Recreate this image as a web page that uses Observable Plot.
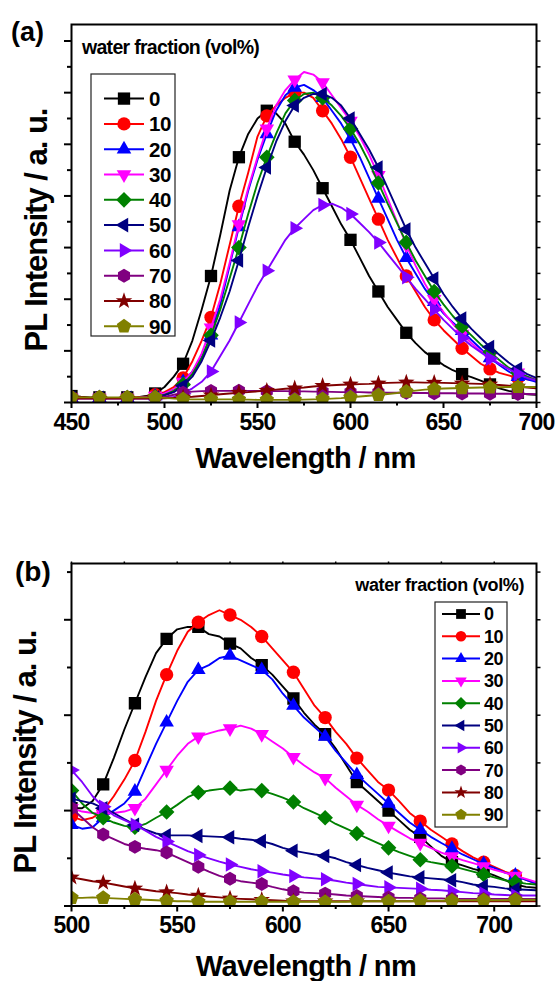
<!DOCTYPE html>
<html>
<head>
<meta charset="utf-8">
<script src="https://cdn.jsdelivr.net/npm/d3@7"></script>
<script src="https://cdn.jsdelivr.net/npm/@observablehq/plot@0.6"></script>
<style>
html, body { margin: 0; padding: 0; background: #fff; overflow: hidden; }
#wrap { width: 557px; height: 981px; overflow: hidden; }
#wrap svg { display: block; }
g[aria-label="x-axis tick label"] text { letter-spacing: -0.8px; }
</style>
</head>
<body>
<div id="wrap"></div>
<script>
// ---------- data ----------
const fractions = ["0", "10", "20", "30", "40", "50", "60", "70", "80", "90"];
const seriesColors = ["#000000", "#ff0000", "#0000ff", "#ff00ff", "#008000", "#000080", "#8000ff", "#800080", "#800000", "#808000"];

// panel (a): wavelength grid (nm)
const wlA = [450,455,460,465,470,475,480,485,490,495,500,505,510,515,520,525,530,535,540,545,550,555,560,565,570,575,580,585,590,595,600,605,610,615,620,625,630,635,640,645,650,655,660,665,670,675,680,685,690,695,700];
const a0  = [0.25,0.22,0.2,0.2,0.18,0.18,0.2,0.2,0.25,0.35, 0.6,1.0,1.5,2.4,3.6,4.9,6.5,8.2,9.5,10.4, 11.0,11.3,11.2,10.8,10.1,9.6,9.0,8.3,7.6,6.9, 6.3,5.6,4.9,4.3,3.7,3.2,2.7,2.3,1.95,1.7, 1.45,1.25,1.1,0.98,0.85,0.7,0.55,0.45,0.38,0.32,0.3];
const a10 = [0.2,0.2,0.18,0.18,0.18,0.18,0.18,0.2,0.22,0.3, 0.4,0.6,0.95,1.6,2.4,3.3,4.6,6.1,7.6,8.9, 10.3,11.1,11.5,11.8,12.0,12.0,11.8,11.3,10.8,10.2, 9.5,8.7,7.9,7.1,6.3,5.6,4.9,4.3,3.7,3.2, 2.8,2.45,2.1,1.8,1.5,1.3,1.15,1.05,0.95,0.9,0.85];
const a20 = [0.18,0.18,0.18,0.18,0.18,0.18,0.18,0.18,0.2,0.25, 0.35,0.5,0.8,1.2,1.75,2.6,3.8,5.3,6.8,8.2, 9.4,10.4,11.3,11.9,12.2,12.3,12.1,11.8,11.3,10.8, 10.2,9.5,8.7,7.9,7.1,6.3,5.6,5.0,4.4,3.9, 3.45,3.1,2.78,2.42,2.08,1.72,1.45,1.2,1.0,0.9,0.8];
const a30 = [0.18,0.18,0.18,0.18,0.18,0.18,0.18,0.18,0.2,0.25, 0.35,0.5,0.8,1.2,1.9,2.9,4.0,5.4,6.9,8.3, 9.5,10.6,11.5,12.1,12.5,12.8,12.7,12.4,11.9,11.4, 10.9,10.3,9.6,8.8,7.9,7.0,6.1,5.3,4.6,4.0, 3.5,3.05,2.65,2.3,2.0,1.75,1.5,1.3,1.15,1.0,0.9];
const a40 = [0.18,0.18,0.18,0.18,0.18,0.18,0.18,0.18,0.18,0.22, 0.3,0.45,0.7,1.1,1.7,2.6,3.6,4.8,6.0,7.3, 8.5,9.5,10.4,11.2,11.7,11.95,12.0,11.8,11.5,11.1, 10.6,10.0,9.3,8.5,7.7,6.95,6.2,5.5,4.9,4.3, 3.8,3.35,2.95,2.6,2.25,1.95,1.65,1.35,1.15,1.0,0.85];
const a50 = [0.18,0.18,0.18,0.18,0.18,0.18,0.18,0.18,0.18,0.2, 0.28,0.4,0.65,1.0,1.6,2.4,3.3,4.3,5.5,6.8, 8.0,9.1,10.1,10.9,11.5,11.8,11.95,11.95,11.8,11.5, 11.0,10.4,9.8,9.1,8.3,7.5,6.7,6.0,5.4,4.8, 4.2,3.7,3.25,2.85,2.5,2.15,1.85,1.55,1.3,1.1,0.95];
const a60 = [0.15,0.15,0.15,0.15,0.15,0.15,0.15,0.15,0.15,0.15, 0.18,0.22,0.35,0.55,0.8,1.2,1.8,2.4,3.1,3.8, 4.5,5.1,5.7,6.3,6.75,7.1,7.45,7.65,7.7,7.55, 7.3,6.95,6.6,6.2,5.75,5.3,4.85,4.4,4.0,3.6, 3.2,2.85,2.5,2.2,1.95,1.7,1.5,1.3,1.1,0.95,0.85];
const a70 = [0.18,0.18,0.18,0.18,0.18,0.18,0.18,0.18,0.2,0.2, 0.22,0.3,0.38,0.42,0.44,0.45,0.45,0.45,0.46,0.45, 0.45,0.44,0.44,0.44,0.43,0.43,0.42,0.42,0.41,0.4, 0.4,0.4,0.39,0.39,0.38,0.38,0.38,0.37,0.37,0.36, 0.36,0.36,0.35,0.35,0.35,0.34,0.34,0.34,0.33,0.33,0.32];
const a80 = [0.15,0.15,0.15,0.15,0.15,0.15,0.15,0.15,0.15,0.15, 0.16,0.18,0.2,0.22,0.25,0.28,0.32,0.35,0.38,0.4, 0.43,0.46,0.5,0.53,0.55,0.58,0.62,0.65,0.67,0.69, 0.7,0.71,0.72,0.74,0.76,0.77,0.78,0.78,0.77,0.77, 0.76,0.75,0.74,0.73,0.72,0.7,0.68,0.65,0.62,0.58,0.55];
const a90 = [0.2,0.2,0.2,0.2,0.2,0.2,0.2,0.2,0.2,0.2, 0.18,0.15,0.13,0.12,0.12,0.12,0.12,0.12,0.11,0.11, 0.1,0.1,0.1,0.1,0.1,0.11,0.12,0.13,0.15,0.17, 0.2,0.23,0.26,0.29,0.33,0.37,0.42,0.46,0.5,0.52, 0.54,0.55,0.56,0.57,0.58,0.58,0.59,0.6,0.6,0.6,0.6];

// panel (b): wavelength grid (nm)
const wlB = [500,505,510,515,520,525,530,535,540,545,550,555,560,565,570,575,580,585,590,595,600,605,610,615,620,625,630,635,640,645,650,655,660,665,670,675,680,685,690,695,700,705,710,715,720];
const b0  = [2.05,2.05,2.2,2.55,3.1,3.7,4.25,4.8,5.3,5.6, 5.8,5.85,5.85,5.7,5.65,5.5,5.4,5.2,5.05,4.85, 4.6,4.35,4.05,3.8,3.6,3.3,2.95,2.6,2.4,2.2, 2.0,1.8,1.6,1.45,1.25,1.05,0.92,0.85,0.78,0.72, 0.64,0.55,0.45,0.4,0.38];
const b10 = [1.88,1.8,1.85,2.0,2.3,2.65,3.05,3.65,4.3,4.85, 5.35,5.75,5.95,6.1,6.2,6.1,6.0,5.85,5.65,5.4, 5.15,4.9,4.55,4.2,3.95,3.65,3.4,3.1,2.85,2.6, 2.43,2.2,1.95,1.78,1.6,1.45,1.3,1.15,1.02,0.92, 0.82,0.72,0.64,0.55,0.47];
const b20 = [1.7,1.62,1.65,1.85,2.0,2.15,2.4,2.9,3.4,3.85, 4.3,4.7,4.95,5.05,5.2,5.25,5.15,5.05,4.95,4.75, 4.45,4.2,3.95,3.75,3.55,3.25,3.0,2.75,2.55,2.35, 2.15,1.95,1.75,1.6,1.45,1.32,1.2,1.08,0.98,0.88, 0.8,0.7,0.64,0.55,0.47];
const b30 = [2.05,1.98,1.95,1.93,1.95,1.98,2.05,2.25,2.55,2.85, 3.15,3.4,3.55,3.62,3.68,3.72,3.78,3.72,3.6,3.45, 3.3,3.12,2.95,2.8,2.68,2.48,2.3,2.12,1.98,1.82, 1.68,1.55,1.42,1.32,1.22,1.12,1.04,0.96,0.9,0.83, 0.76,0.7,0.63,0.57,0.5];
const b40 = [2.42,2.15,1.95,1.85,1.75,1.68,1.65,1.72,1.85,1.97, 2.12,2.28,2.38,2.42,2.45,2.47,2.42,2.45,2.42,2.35, 2.27,2.18,2.05,1.95,1.85,1.72,1.62,1.52,1.42,1.32, 1.22,1.13,1.05,0.97,0.92,0.88,0.84,0.78,0.72,0.66, 0.6,0.54,0.5,0.47,0.45];
const b50 = [2.25,2.2,2.15,2.05,1.95,1.82,1.7,1.6,1.52,1.48, 1.48,1.48,1.47,1.46,1.45,1.44,1.41,1.39,1.36,1.3, 1.22,1.16,1.12,1.08,1.05,1.0,0.92,0.86,0.8,0.75, 0.7,0.66,0.62,0.6,0.58,0.56,0.54,0.5,0.45,0.42, 0.4,0.37,0.35,0.34,0.33];
const b60 = [2.85,2.6,2.3,2.08,1.9,1.8,1.7,1.58,1.45,1.35, 1.25,1.15,1.07,1.0,0.93,0.87,0.82,0.77,0.73,0.7, 0.66,0.63,0.6,0.58,0.56,0.53,0.49,0.46,0.43,0.4, 0.39,0.38,0.37,0.36,0.34,0.33,0.31,0.29,0.27,0.26, 0.24,0.23,0.22,0.22,0.22];
const b70 = [2.05,1.85,1.65,1.5,1.4,1.3,1.24,1.2,1.17,1.12, 1.02,0.92,0.82,0.72,0.63,0.57,0.52,0.49,0.46,0.4, 0.35,0.31,0.28,0.27,0.26,0.24,0.22,0.21,0.2,0.19, 0.18,0.17,0.17,0.16,0.16,0.16,0.15,0.15,0.15,0.15, 0.15,0.15,0.15,0.15,0.15];
const b80 = [0.6,0.56,0.52,0.49,0.45,0.41,0.37,0.34,0.31,0.29, 0.27,0.24,0.22,0.2,0.18,0.16,0.15,0.14,0.13,0.12, 0.11,0.1,0.1,0.1,0.1,0.1,0.1,0.1,0.1,0.1, 0.1,0.1,0.1,0.1,0.1,0.1,0.1,0.1,0.1,0.1, 0.1,0.1,0.1,0.1,0.1];
const b90 = [0.17,0.17,0.18,0.17,0.16,0.15,0.14,0.13,0.12,0.11, 0.1,0.1,0.09,0.09,0.09,0.09,0.09,0.09,0.09,0.09, 0.09,0.09,0.09,0.09,0.09,0.09,0.09,0.1,0.1,0.1, 0.1,0.1,0.1,0.11,0.11,0.11,0.11,0.12,0.12,0.12, 0.12,0.12,0.13,0.13,0.13];

// ticks
const aXMajor = [450, 500, 550, 600, 650, 700];
const aXMinor = [475, 525, 575, 625, 675];
const aYMajor = [0, 2, 4, 6, 8, 10, 12, 14];
const aYMinor = [1, 3, 5, 7, 9, 11, 13];
const bXMajor = [500, 550, 600, 650, 700];
const bXMinor = [525, 575, 625, 675];
const bYMajor = [0, 2, 4, 6];
const bYMinor = [1, 3, 5, 7];

// texts
const xTitle = "Wavelength / nm";
const yTitle = "PL Intensity / a. u.";
const legendTitle = "water fraction (vol%)";

// ---------- symbols ----------
function polySym(n, rot, k) {
  return { draw(ctx, size) {
    const R = Math.sqrt(size / Math.PI) * k;
    for (let i = 0; i < n; i++) {
      const a = rot + i * 2 * Math.PI / n;
      const x = R * Math.sin(a), y = -R * Math.cos(a);
      if (i) ctx.lineTo(x, y); else ctx.moveTo(x, y);
    }
    ctx.closePath();
  }};
}
function starSym(ko, ki) {
  return { draw(ctx, size) {
    const R = Math.sqrt(size / Math.PI);
    for (let i = 0; i < 10; i++) {
      const rr = (i % 2 ? ki : ko) * R;
      const a = i * Math.PI / 5;
      const x = rr * Math.sin(a), y = -rr * Math.cos(a);
      if (i) ctx.lineTo(x, y); else ctx.moveTo(x, y);
    }
    ctx.closePath();
  }};
}
const circleSym = { draw(ctx, size) { const R = Math.sqrt(size / Math.PI) * 1.15; ctx.moveTo(R, 0); ctx.arc(0, 0, R, 0, 2 * Math.PI); ctx.closePath(); } };
const seriesSymbols = [
  polySym(4, Math.PI / 4, 1.5),   // square
  circleSym,                      // circle
  polySym(3, 0, 1.45),            // up
  polySym(3, Math.PI, 1.45),      // down
  polySym(4, 0, 1.35),            // diamond
  polySym(3, -Math.PI / 2, 1.45), // left
  polySym(3, Math.PI / 2, 1.45),  // right
  polySym(6, 0, 1.2),             // hexagon
  starSym(1.5, 0.6),              // star
  polySym(5, 0, 1.3)              // pentagon
];

const FONT = '"Liberation Sans", Arial, Helvetica, sans-serif';

function panel(o) {
  const marks = [];
  o.series.forEach((vals, i) => {
    const rows = o.wl.map((w, j) => ({ w, v: vals[j] }));
    marks.push(Plot.line(rows, { x: "w", y: "v", stroke: seriesColors[i], strokeWidth: 1.9, clip: true }));
    marks.push(Plot.dot(rows.filter(d => (d.w - o.wl[0]) % 15 === 0), { x: "w", y: "v", r: 5.8, fill: seriesColors[i], symbol: seriesSymbols[i], clip: true }));
  });
  marks.push(
    Plot.axisX(o.xMajor, { tickSize: 6, tickPadding: 5, strokeWidth: 2, fontSize: 23, fontWeight: "bold", label: null }),
    Plot.axisX(o.xMinor, { tickSize: 3.5, strokeWidth: 2, tickFormat: () => "", label: null }),
    Plot.axisY(o.yMajor, { tickSize: 7, strokeWidth: 2, tickFormat: () => "", label: null }),
    Plot.axisY(o.yMinor, { tickSize: 4, strokeWidth: 2, tickFormat: () => "", label: null }),
    Plot.axisY(o.yMajor.concat(o.yMinor), { anchor: "right", tickSize: 3.5, strokeWidth: 1.5, tickFormat: () => "", label: null })
  );
  if (o.topTicks) marks.push(Plot.axisX(o.xMajor.concat(o.xMinor), { anchor: "top", tickSize: 2.5, strokeWidth: 1.5, tickFormat: () => "", label: null }));
  marks.push(Plot.frame({ stroke: "black", strokeWidth: 2 }));
  return Plot.plot({
    width: 557, height: o.height,
    marginLeft: 71, marginRight: 21, marginTop: o.mt, marginBottom: o.mb,
    x: { domain: o.xDomain, label: null },
    y: { domain: o.yDomain, label: null },
    style: { fontFamily: FONT, fontWeight: "bold", background: "white", color: "black", overflow: "visible" },
    marks
  });
}

function addText(svg, o) {
  const t = d3.select(svg).append("text")
    .attr("x", o.x).attr("y", o.y)
    .attr("font-size", o.size).attr("font-weight", "bold")
    .attr("font-family", FONT)
    .attr("text-anchor", o.anchor || "start")
    .attr("fill", "black")
    .style("letter-spacing", (o.ls || 0) + "px")
    .text(o.text);
  if (o.rotate) t.attr("transform", `rotate(${o.rotate},${o.x},${o.y})`);
  return t;
}

function addLegend(svg, o) {
  const g = d3.select(svg).append("g");
  g.append("rect").attr("x", o.bx).attr("y", o.by).attr("width", o.bw).attr("height", o.bh)
    .attr("fill", "white").attr("stroke", "#222").attr("stroke-width", 1.2);
  fractions.forEach((f, i) => {
    const y = o.y0 + i * o.dy;
    g.append("line").attr("x1", o.lx1).attr("x2", o.lx2).attr("y1", y).attr("y2", y)
      .attr("stroke", seriesColors[i]).attr("stroke-width", 2);
    g.append("path").attr("d", d3.symbol(seriesSymbols[i], o.r * o.r * Math.PI)())
      .attr("transform", `translate(${o.mx},${y})`).attr("fill", seriesColors[i]);
    g.append("text").attr("x", o.tx).attr("y", y + 0.36 * o.fs)
      .attr("font-size", o.fs).attr("font-weight", "bold").attr("font-family", FONT)
      .attr("text-anchor", "start").style("letter-spacing", "-0.5px").text(f);
  });
}

const wrap = document.getElementById("wrap");

// ----- panel (a) -----
const svgA = panel({
  wl: wlA, series: [a0, a10, a20, a30, a40, a50, a60, a70, a80, a90],
  xDomain: [450, 700], yDomain: [0, 14.64],
  xMajor: aXMajor, xMinor: aXMinor, yMajor: aYMajor, yMinor: aYMinor,
  height: 490, mt: 24, mb: 88, topTicks: false
});
wrap.appendChild(svgA);
addText(svgA, { x: 11, y: 41, size: 27, text: "(a)" });
addText(svgA, { x: 47, y: 230, size: 31, text: yTitle, anchor: "middle", rotate: -90, ls: -1 });
addText(svgA, { x: 305.5, y: 468, size: 29, text: xTitle, anchor: "middle", ls: -0.6 });
addText(svgA, { x: 82, y: 54, size: 19.5, text: legendTitle, ls: -0.7 });
addLegend(svgA, { bx: 91, by: 74, bw: 84, bh: 262, y0: 98.6, dy: 25.3, lx1: 104, lx2: 144, mx: 124, tx: 149, fs: 20.5, r: 5.8 });

// ----- panel (b) -----
const svgB = panel({
  wl: wlB, series: [b0, b10, b20, b30, b40, b50, b60, b70, b80, b90],
  xDomain: [500, 720], yDomain: [0, 7.18],
  xMajor: bXMajor, xMinor: bXMinor, yMajor: bYMajor, yMinor: bYMinor,
  height: 491, mt: 73, mb: 75.5, topTicks: true
});
wrap.appendChild(svgB);
addText(svgB, { x: 15, y: 90.5, size: 28, text: "(b)" });
addText(svgB, { x: 36, y: 262, size: 31, text: yTitle, anchor: "middle", rotate: -90, ls: -1 });
addText(svgB, { x: 306, y: 486, size: 29, text: xTitle, anchor: "middle", ls: -0.6 });
addText(svgB, { x: 524, y: 101, size: 18, text: legendTitle, anchor: "end", ls: -0.4 });
addLegend(svgB, { bx: 435, by: 112, bw: 72, bh: 225, y0: 124, dy: 22.3, lx1: 442, lx2: 480, mx: 461, tx: 484, fs: 18, r: 4.6 });
</script>
</body>
</html>
